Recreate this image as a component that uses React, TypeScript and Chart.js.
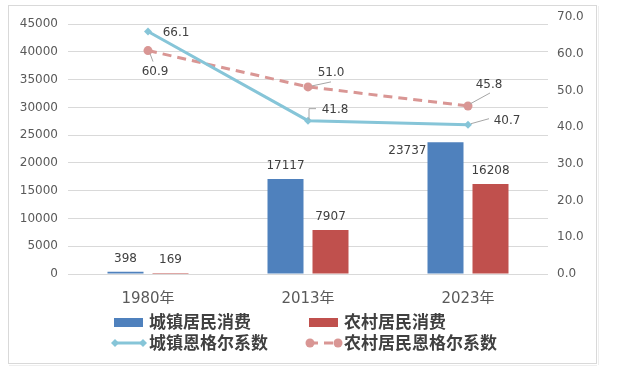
import React, { useEffect, useRef } from "react";
import { Chart, registerables } from "chart.js";

Chart.register(...registerables);

const categories = ["1980年", "2013年", "2023年"];
const urbanConsumption = [398, 17117, 23737];
const ruralConsumption = [169, 7907, 16208];
const urbanEngel = [66.1, 41.8, 40.7];
const ruralEngel = [60.9, 51.0, 45.8];
const seriesNames = ["城镇居民消费", "农村居民消费", "城镇恩格尔系数", "农村居民恩格尔系数"];
const leftTicks = [0, 5000, 10000, 15000, 20000, 25000, 30000, 35000, 40000, 45000];
const rightTicks = [0, 10, 20, 30, 40, 50, 60, 70];

const BLUE = "#4F81BD";
const RED = "#C0504D";
const AQUA = "#86C5D8";
const PINK = "#D99694";
const TEXT = "#595959";
const LABEL = "#404040";
const GRID = "#D9D9D9";
const NUM_FONT = "'DejaVu Sans', 'Noto Sans CJK SC', sans-serif";
const CJK_FONT = "'Noto Sans CJK SC', 'DejaVu Sans', sans-serif";

// label placement (relative offsets from each point / bar top)
const barLabelPlace = [
  ["above", "above", "left"],
  ["above", "above", "above"],
];
const lineLabelPlace = [
  [
    { dx: 28, dy: 1, leader: [] as number[][] },
    { dx: 27, dy: -11, leader: [[1, -1], [1, -12], [8, -12]] },
    { dx: 39, dy: -4, leader: [[3, -1], [21, -6]] },
  ],
  [
    { dx: 7, dy: 21, leader: [[2, 3], [5, 11]] },
    { dx: 23, dy: -14, leader: [[4, -1], [23, -5]] },
    { dx: 21, dy: -21, leader: [[2, -2], [22, -13]] },
  ],
];

const labelsPlugin = {
  id: "customLabels",
  afterDatasetsDraw(chart: any) {
    const ctx = chart.ctx;
    ctx.save();
    ctx.font = `12px ${NUM_FONT}`;
    ctx.fillStyle = LABEL;
    ctx.textBaseline = "middle";
    [0, 1].forEach((di) => {
      const meta = chart.getDatasetMeta(di);
      const data = chart.data.datasets[di].data;
      meta.data.forEach((el: any, i: number) => {
        const place = barLabelPlace[di][i];
        const txt = String(data[i]);
        if (place === "left") {
          ctx.textAlign = "right";
          ctx.fillText(txt, el.x - el.width / 2 - 1, el.y + 9);
        } else {
          ctx.textAlign = "center";
          ctx.fillText(txt, el.x, el.y - 13);
        }
      });
    });
    [2, 3].forEach((di, li) => {
      const meta = chart.getDatasetMeta(di);
      const data = chart.data.datasets[di].data;
      meta.data.forEach((el: any, i: number) => {
        const p = lineLabelPlace[li][i];
        if (p.leader.length) {
          ctx.strokeStyle = "#A6A6A6";
          ctx.lineWidth = 1;
          ctx.beginPath();
          p.leader.forEach((pt, k) => {
            const x = el.x + pt[0];
            const y = el.y + pt[1];
            if (k === 0) ctx.moveTo(x, y);
            else ctx.lineTo(x, y);
          });
          ctx.stroke();
        }
        ctx.textAlign = "center";
        ctx.fillText((data[i] as number).toFixed(1), el.x + p.dx, el.y + p.dy);
      });
    });
    ctx.restore();
  },
};

const legendCols = [112, 307];
const legendRows = [322, 343];

const framePlugin = {
  id: "frameLegend",
  beforeDraw(chart: any) {
    const ctx = chart.ctx;
    ctx.save();
    ctx.fillStyle = "#FFFFFF";
    ctx.fillRect(0, 0, chart.width, chart.height);
    ctx.strokeStyle = GRID;
    ctx.lineWidth = 1;
    ctx.strokeRect(8.5, 5.5, 588, 358);
    ctx.strokeStyle = "#EEEEEE";
    ctx.beginPath();
    ctx.moveTo(9, 365.5);
    ctx.lineTo(597, 365.5);
    ctx.moveTo(598.5, 6);
    ctx.lineTo(598.5, 365);
    ctx.stroke();
    ctx.restore();
  },
  afterDraw(chart: any) {
    const ctx = chart.ctx;
    ctx.save();
    ctx.font = `bold 17px ${CJK_FONT}`;
    ctx.textBaseline = "middle";
    ctx.textAlign = "left";
    const ds = chart.data.datasets;
    ds.forEach((d: any, i: number) => {
      const col = legendCols[i % 2];
      const y = legendRows[Math.floor(i / 2)];
      if (d.type === "bar") {
        ctx.fillStyle = d.backgroundColor;
        ctx.fillRect(col + 2, y - 4, 29, 9);
      } else {
        ctx.strokeStyle = d.borderColor;
        ctx.lineWidth = 3;
        ctx.setLineDash(d.borderDash || []);
        ctx.beginPath();
        ctx.moveTo(col + 2, y);
        ctx.lineTo(col + 32, y);
        ctx.stroke();
        ctx.setLineDash([]);
        ctx.fillStyle = d.pointBackgroundColor;
        [col + 3, col + 31].forEach((mx) => {
          ctx.beginPath();
          if (d.pointStyle === "rectRot") {
            ctx.moveTo(mx, y - 4);
            ctx.lineTo(mx + 4, y);
            ctx.lineTo(mx, y + 4);
            ctx.lineTo(mx - 4, y);
            ctx.closePath();
          } else {
            ctx.arc(mx, y, 4.5, 0, Math.PI * 2);
          }
          ctx.fill();
        });
      }
      ctx.fillStyle = LABEL;
      ctx.fillText(d.label, col + 37, y);
    });
    ctx.restore();
  },
};

export default function App() {
  const ref = useRef<HTMLCanvasElement>(null);
  useEffect(() => {
    if (!ref.current) return;
    const chart = new Chart(ref.current, {
      type: "bar",
      data: {
        labels: categories,
        datasets: [
          {
            type: "bar",
            label: seriesNames[0],
            data: urbanConsumption,
            backgroundColor: BLUE,
            yAxisID: "y",
            order: 2,
            barPercentage: 0.8,
            categoryPercentage: 0.5625,
          },
          {
            type: "bar",
            label: seriesNames[1],
            data: ruralConsumption,
            backgroundColor: RED,
            yAxisID: "y",
            order: 2,
            barPercentage: 0.8,
            categoryPercentage: 0.5625,
          },
          {
            type: "line",
            label: seriesNames[2],
            data: urbanEngel,
            borderColor: AQUA,
            backgroundColor: AQUA,
            pointBackgroundColor: AQUA,
            pointBorderColor: AQUA,
            pointStyle: "rectRot",
            pointRadius: 4,
            pointBorderWidth: 0,
            borderWidth: 3,
            yAxisID: "y1",
            order: 0,
          } as any,
          {
            type: "line",
            label: seriesNames[3],
            data: ruralEngel,
            borderColor: PINK,
            backgroundColor: PINK,
            pointBackgroundColor: PINK,
            pointBorderColor: PINK,
            pointStyle: "circle",
            pointRadius: 4.5,
            pointBorderWidth: 0,
            borderWidth: 3,
            borderDash: [9, 6],
            yAxisID: "y1",
            order: 1,
          } as any,
        ],
      },
      options: {
        responsive: false,
        animation: false,
        devicePixelRatio: 1,
        layout: { padding: { left: 10, right: 10, top: 17, bottom: 80 } },
        plugins: { legend: { display: false }, tooltip: { enabled: false } },
        scales: {
          x: {
            grid: { display: false },
            border: { display: false },
            ticks: { color: TEXT, font: { size: 15, family: NUM_FONT }, padding: 8 },
            afterFit(scale: any) {
              scale.height = 30;
            },
          },
          y: {
            position: "left",
            min: 0,
            max: 46250,
            grid: { color: GRID, drawTicks: false, lineWidth: 1 },
            border: { display: false },
            ticks: {
              color: TEXT,
              font: { size: 12, family: NUM_FONT },
              padding: 10,
              callback: (v: any) => String(v),
            },
            afterBuildTicks(scale: any) {
              scale.ticks = leftTicks.map((v) => ({ value: v }));
            },
            afterFit(scale: any) {
              scale.width = 58;
            },
          },
          y1: {
            position: "right",
            min: 0,
            max: 70,
            grid: { display: false, drawTicks: false },
            border: { display: false },
            ticks: {
              color: TEXT,
              font: { size: 12, family: NUM_FONT },
              padding: 9,
              callback: (v: any) => Number(v).toFixed(1),
            },
            afterBuildTicks(scale: any) {
              scale.ticks = rightTicks.map((v) => ({ value: v }));
            },
            afterFit(scale: any) {
              scale.width = 64;
            },
          },
        },
      } as any,
      plugins: [labelsPlugin, framePlugin],
    });
    return () => chart.destroy();
  }, []);
  return (
    <div style={{ position: "absolute", left: 0, top: 0, width: 622, height: 384 }}>
      <canvas ref={ref} width={622} height={384} style={{ display: "block", width: 622, height: 384 }} />
    </div>
  );
}
